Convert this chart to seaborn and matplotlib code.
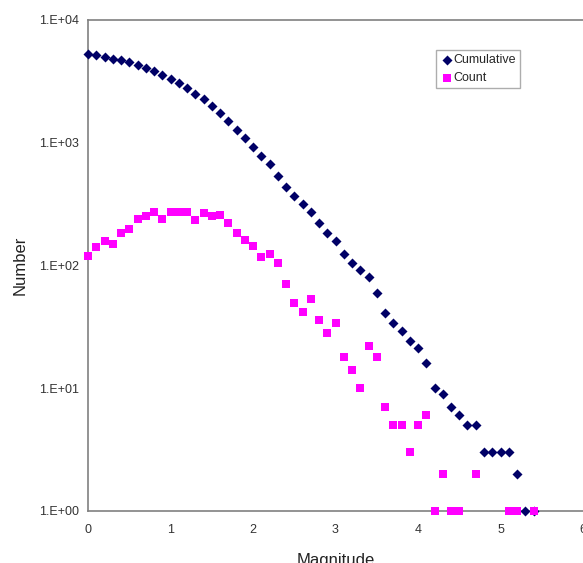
import numpy as np
import pandas as pd
import matplotlib
matplotlib.use("Agg")
import matplotlib.pyplot as plt
import seaborn as sns
from matplotlib.ticker import FixedLocator, FuncFormatter

# ---- data ----
cum_mag = [0.0, 0.1, 0.2, 0.3, 0.4, 0.5, 0.6, 0.7, 0.8, 0.9,
           1.0, 1.1, 1.2, 1.3, 1.4, 1.5, 1.6, 1.7, 1.8, 1.9,
           2.0, 2.1, 2.2, 2.3, 2.4, 2.5, 2.6, 2.7, 2.8, 2.9,
           3.0, 3.1, 3.2, 3.3, 3.4, 3.5, 3.6, 3.7, 3.8, 3.9,
           4.0, 4.1, 4.2, 4.3, 4.4, 4.5, 4.6, 4.7, 4.8, 4.9,
           5.0, 5.1, 5.2, 5.3, 5.4]
cumulative = [5267, 5147, 5006, 4848, 4700, 4516, 4319, 4081, 3827, 3554,
              3317, 3044, 2771, 2498, 2265, 2000, 1749, 1491, 1269, 1085,
              925, 781, 664, 540, 436, 365, 316, 274, 221, 185,
              157, 123, 105, 91, 81, 59, 41, 34, 29, 24,
              21, 16, 10, 9, 7, 6, 5, 5, 3, 3,
              3, 3, 2, 1, 1]

count_mag = [0.0, 0.1, 0.2, 0.3, 0.4, 0.5, 0.6, 0.7, 0.8, 0.9,
             1.0, 1.1, 1.2, 1.3, 1.4, 1.5, 1.6, 1.7, 1.8, 1.9,
             2.0, 2.1, 2.2, 2.3, 2.4, 2.5, 2.6, 2.7, 2.8, 2.9,
             3.0, 3.1, 3.2, 3.3, 3.4, 3.5, 3.6, 3.7, 3.8, 3.9,
             4.0, 4.1, 4.2, 4.3, 4.4, 4.5, 4.7, 5.1, 5.2, 5.4]
count = [120, 141, 158, 148, 184, 197, 238, 254, 273, 237,
         273, 273, 273, 233, 265, 251, 258, 222, 184, 160,
         144, 117, 124, 104, 71, 49, 42, 53, 36, 28,
         34, 18, 14, 10, 22, 18, 7, 5, 5, 3,
         5, 6, 1, 2, 1, 1, 2, 1, 1, 1]

x_ticks = [0, 1, 2, 3, 4, 5, 6]
y_ticks = [1, 10, 100, 1000, 10000]
y_tick_labels = ["1.E+00", "1.E+01", "1.E+02", "1.E+03", "1.E+04"]

df_cum = pd.DataFrame({"Magnitude": cum_mag, "Number": cumulative})
df_cnt = pd.DataFrame({"Magnitude": count_mag, "Number": count})

sns.set_style("white")
plt.rcParams["font.family"] = ["Liberation Sans", "DejaVu Sans"]

fig = plt.figure(figsize=(5.83, 5.63), dpi=100)
ax = fig.add_axes([88 / 583, 1 - 510.7 / 563, (583 - 88) / 583, (510.7 - 20) / 563])

sns.scatterplot(data=df_cum, x="Magnitude", y="Number", ax=ax, marker="D",
                color="#000066", s=26, linewidth=0, label="Cumulative",
                zorder=3, clip_on=False)
sns.scatterplot(data=df_cnt, x="Magnitude", y="Number", ax=ax, marker="s",
                color="#FF00FF", s=34, linewidth=0, label="Count",
                zorder=4, clip_on=False)

ax.set_yscale("log")
ax.set_xlim(0, 6)
ax.set_ylim(1, 10000)
ax.xaxis.set_major_locator(FixedLocator(x_ticks))
ax.yaxis.set_major_locator(FixedLocator(y_ticks))
ax.yaxis.set_minor_locator(FixedLocator([]))
ax.yaxis.set_major_formatter(FuncFormatter(
    lambda v, p: y_tick_labels[y_ticks.index(int(round(v)))] if int(round(v)) in y_ticks else ""))
ax.xaxis.set_major_formatter(FuncFormatter(lambda v, p: f"{int(round(v))}"))

for side in ["left", "bottom", "top"]:
    ax.spines[side].set_color("#808080")
    ax.spines[side].set_linewidth(1.2)
    ax.spines[side].set_zorder(2)
ax.spines["right"].set_visible(False)

ax.tick_params(axis="both", which="major", direction="out", length=3.5, width=1,
               color="#808080", labelsize=9, labelcolor="#333333")
ax.tick_params(axis="y", pad=3)
ax.tick_params(axis="x", pad=6)
ax.tick_params(which="minor", length=0)

ax.set_xlabel("Magnitude", fontsize=12, color="#222222", labelpad=12)
ax.set_ylabel("Number", fontsize=12, color="#222222", labelpad=8)

leg = ax.legend(loc="upper left", bbox_to_anchor=((436 - 88) / 495, 1 - (50 - 20) / 490.7),
                frameon=True, fancybox=False, shadow=False, fontsize=9,
                handletextpad=0.0, borderpad=0.35, labelspacing=0.45,
                handlelength=1.0, borderaxespad=0, markerscale=1.0)
leg.get_frame().set_edgecolor("#999999")
leg.get_frame().set_linewidth(1.0)

fig.savefig("out.png", dpi=100)
